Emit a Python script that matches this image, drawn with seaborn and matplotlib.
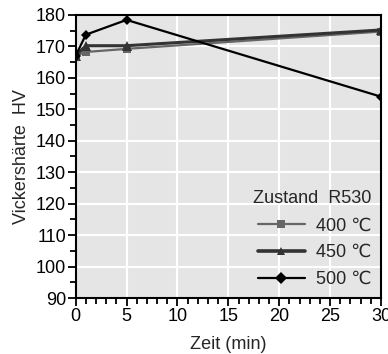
import numpy as np
import pandas as pd
import matplotlib.pyplot as plt
import seaborn as sns
from matplotlib.ticker import MultipleLocator

zeit = [0, 1, 5, 30]
hv_400 = [167, 168.2, 169.2, 174.7]
hv_450 = [167, 170.2, 170.2, 175.2]
hv_500 = [167, 173.7, 178.4, 154]
labels = ["400 \u2103", "450 \u2103", "500 \u2103"]

df = pd.DataFrame({
    "Zeit": zeit * 3,
    "HV": hv_400 + hv_450 + hv_500,
    "Zustand": [labels[0]] * 4 + [labels[1]] * 4 + [labels[2]] * 4,
})

sns.set_style("darkgrid", {"axes.facecolor": "#e5e5e5", "grid.color": "white"})
plt.rcParams['font.family'] = ['Liberation Sans', 'DejaVu Sans']

fig, ax = plt.subplots(figsize=(3.88, 3.54), dpi=100)
sns.lineplot(data=df, x="Zeit", y="HV", hue="Zustand", style="Zustand",
             palette=["#666666", "#333333", "#000000"],
             markers=["s", "^", "D"], dashes=False, markersize=6,
             markeredgewidth=0, linewidth=1.6, ax=ax)
# slightly thicker line for 450
for ln, ms, lw in zip(ax.lines, [6, 7, 5], [1.6, 2.2, 1.6]):
    ln.set_markersize(ms)
    ln.set_linewidth(lw)

ax.set_xlim(0, 30)
ax.set_ylim(90, 180)
ax.xaxis.set_major_locator(MultipleLocator(5))
ax.xaxis.set_minor_locator(MultipleLocator(1))
ax.yaxis.set_major_locator(MultipleLocator(10))
ax.yaxis.set_minor_locator(MultipleLocator(5))
ax.grid(True, which="major", color="white", linewidth=1.5)
ax.tick_params(which="major", direction="out", length=6, width=1.3, colors="black",
               labelsize=13, pad=1)
ax.tick_params(which="minor", direction="out", length=4, width=1.3, colors="black",
               bottom=True, left=True)
ax.tick_params(bottom=True, left=True)
for sp in ax.spines.values():
    sp.set_visible(True)
    sp.set_color("black")
    sp.set_linewidth(1.5)

ax.set_xlabel("Zeit (min)", fontsize=13, labelpad=8)
ax.set_ylabel("Vickershärte  HV", fontsize=13, labelpad=4)

leg = ax.legend(title="Zustand  R530", loc="lower right", frameon=False,
                fontsize=13, title_fontsize=13, handlelength=2.6,
                handletextpad=0.6, borderaxespad=0.15, labelspacing=0.55)
leg._legend_box.align = "right"
for h, lw in zip(leg.get_lines(), [1.6, 2.6, 1.6]):
    h.set_linewidth(lw)

fig.subplots_adjust(left=0.195, right=0.982, top=0.958, bottom=0.158)
fig.savefig("out.png", dpi=100)
